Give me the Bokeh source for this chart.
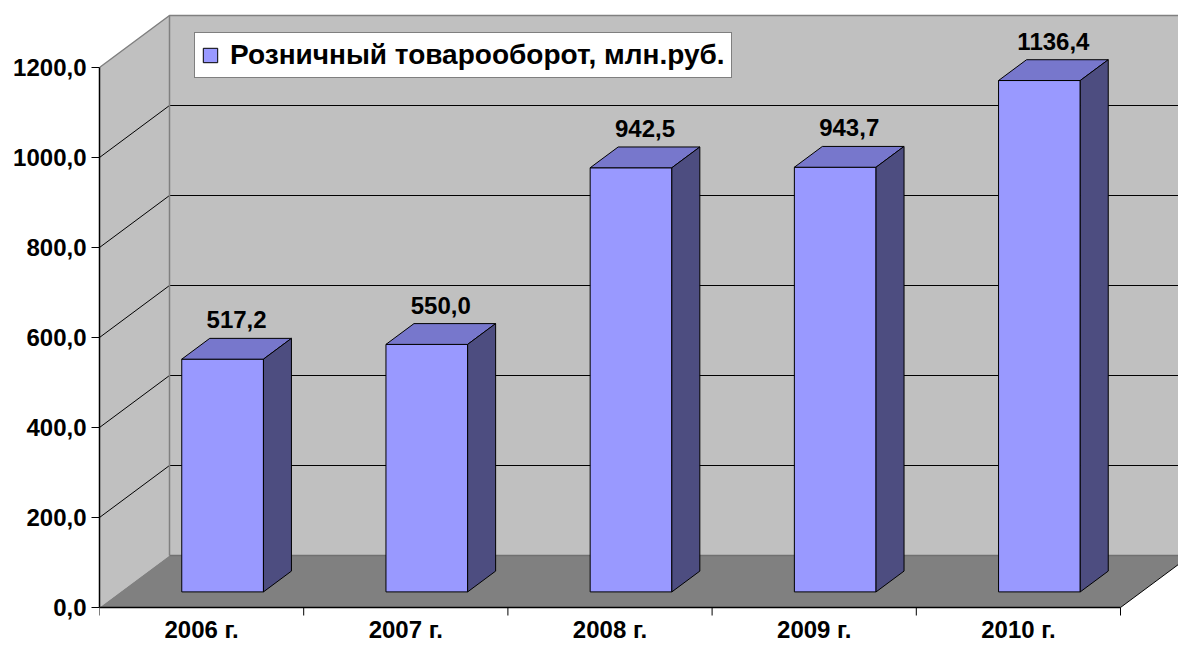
from bokeh.plotting import figure
from bokeh.models import Range1d, FixedTicker, Legend, LegendItem, ColumnDataSource
from bokeh.core.properties import value
from bokeh.embed import file_html
from bokeh.resources import INLINE

# ---- data ----
categories = ["2006 г.", "2007 г.", "2008 г.", "2009 г.", "2010 г."]
sales = [517.2, 550.0, 942.5, 943.7, 1136.4]
y_ticks = [0, 200, 400, 600, 800, 1000, 1200]
y_tick_labels = ["0,0", "200,0", "400,0", "600,0", "800,0", "1000,0", "1200,0"]
series_name = "Розничный товарооборот, млн.руб."

# ---- geometry / style ----
FONT = "Liberation Sans"
W, H = 1178, 647
LEFT = 99
ZERO_Y = 607            # canvas y of value 0 on the front plane
PX_X = 204.2            # px per category
PX_Y = 0.45             # px per value unit
DX = 70 / PX_X          # depth offset (category units)
DY = 52 / PX_Y          # depth offset (value units)
F0, F1 = 0.3, 0.7       # bar depth span
B0, B1 = 0.3, 0.7       # bar width span inside a category
YMAX = 1200
N = len(categories)

FRONT_C = "#9999FF"
TOP_C = "#7777CC"
SIDE_C = "#4D4D80"
WALL_C = "#C0C0C0"
FLOOR_C = "#808080"
EDGE_C = "#808080"

frame_w = W - LEFT
p = figure(width=W, height=H, output_backend="svg", toolbar_location=None,
           x_range=Range1d(0, frame_w / PX_X),
           y_range=Range1d(-(H - ZERO_Y) / PX_Y, ZERO_Y / PX_Y),
           min_border_left=LEFT, min_border_right=0, min_border_top=0, min_border_bottom=0)
p.outline_line_color = None
p.grid.visible = False
p.xaxis.visible = False
p.background_fill_color = "white"
p.border_fill_color = "white"

# walls and floor
p.patch([DX, N + DX, N + DX, DX], [DY, DY, YMAX + DY, YMAX + DY],
        fill_color=WALL_C, line_color=None)
p.patch([0, DX, DX, 0], [0, DY, YMAX + DY, YMAX],
        fill_color=WALL_C, line_color=None)
p.patch([0, N, N + DX, DX], [0, 0, DY, DY], fill_color=FLOOR_C, line_color=None)

# gridlines
grid_vals = [t for t in y_ticks if 0 < t < YMAX]
p.segment(x0=[DX] * len(grid_vals), y0=[g + DY for g in grid_vals],
          x1=[N + DX] * len(grid_vals), y1=[g + DY for g in grid_vals],
          line_color="black", line_width=1)
p.segment(x0=[0] * len(grid_vals), y0=grid_vals,
          x1=[DX] * len(grid_vals), y1=[g + DY for g in grid_vals],
          line_color="black", line_width=1)
# wall edges
p.line([0, DX, N + DX], [YMAX, YMAX + DY, YMAX + DY], line_color=EDGE_C, line_width=1.5)
p.line([DX, DX], [DY, YMAX + DY], line_color=EDGE_C, line_width=1.5)
p.line([DX, N + DX], [DY, DY], line_color="#707070", line_width=1.5)
p.line([N, N + DX], [0, DY], line_color="black", line_width=1)

# bars
fx, fy, tx, ty, sx, sy = [], [], [], [], [], []
for i, v in enumerate(sales):
    l0 = i + B0 + F0 * DX
    r0 = i + B1 + F0 * DX
    l1 = i + B0 + F1 * DX
    r1 = i + B1 + F1 * DX
    b0 = F0 * DY
    b1 = F1 * DY
    fx.append([l0, r0, r0, l0]); fy.append([b0, b0, v + b0, v + b0])
    tx.append([l0, r0, r1, l1]); ty.append([v + b0, v + b0, v + b1, v + b1])
    sx.append([r0, r1, r1, r0]); sy.append([b0, b1, v + b1, v + b0])

front = p.patches(fx, fy, fill_color=FRONT_C, line_color="black", line_width=1)
p.patches(tx, ty, fill_color=TOP_C, line_color="black", line_width=1)
p.patches(sx, sy, fill_color=SIDE_C, line_color="black", line_width=1)

# value labels
lab = ColumnDataSource(dict(
    x=[i + 0.5 + 0.5 * DX for i in range(N)],
    y=[v + 0.5 * DY + 29 / PX_Y for v in sales],
    t=[f"{v:.1f}".replace(".", ",") for v in sales]))
p.text(x="x", y="y", text="t", source=lab, text_align="center", text_baseline="alphabetic",
       text_font=value(FONT), text_font_style="bold", text_font_size="24px", text_color="black")

# bottom axis (front floor edge)
p.line([0, N], [0, 0], line_color="black", line_width=1.5)
p.segment(x0=list(range(N + 1)), y0=[0] * (N + 1), x1=list(range(N + 1)),
          y1=[-8 / PX_Y] * (N + 1), line_color="black", line_width=1)
cat = ColumnDataSource(dict(x=[i + 0.5 for i in range(N)], y=[-22 / PX_Y] * N, t=categories))
p.text(x="x", y="y", text="t", source=cat, text_align="center", text_baseline="alphabetic",
       text_font=value(FONT), text_font_style="bold", text_font_size="24px", text_color="black")

# left axis
ya = p.yaxis[0]
ya.ticker = FixedTicker(ticks=y_ticks, minor_ticks=[])
ya.major_label_overrides = {t: s for t, s in zip(y_ticks, y_tick_labels)}
ya.bounds = (0, YMAX)
ya.axis_line_color = "black"
ya.axis_line_width = 1.5
ya.major_tick_in = 0
ya.major_tick_out = 8
ya.major_tick_line_color = "black"
ya.minor_tick_line_color = None
ya.major_label_standoff = 5
ya.major_label_text_font = FONT
ya.major_label_text_font_style = "bold"
ya.major_label_text_font_size = "24px"
ya.major_label_text_color = "black"

# legend
legend = Legend(items=[LegendItem(label=series_name, renderers=[front])],
                location=(95, H - 78), orientation="vertical",
                label_text_font=FONT, label_text_font_style="bold",
                label_text_font_size="28px", label_text_color="black",
                glyph_width=18, glyph_height=18, label_standoff=11,
                padding=6, margin=0, spacing=0,
                border_line_color="black", border_line_width=1,
                background_fill_color="white", background_fill_alpha=1)
p.add_layout(legend, "center")

open("out.html", "w").write(file_html(p, INLINE))
